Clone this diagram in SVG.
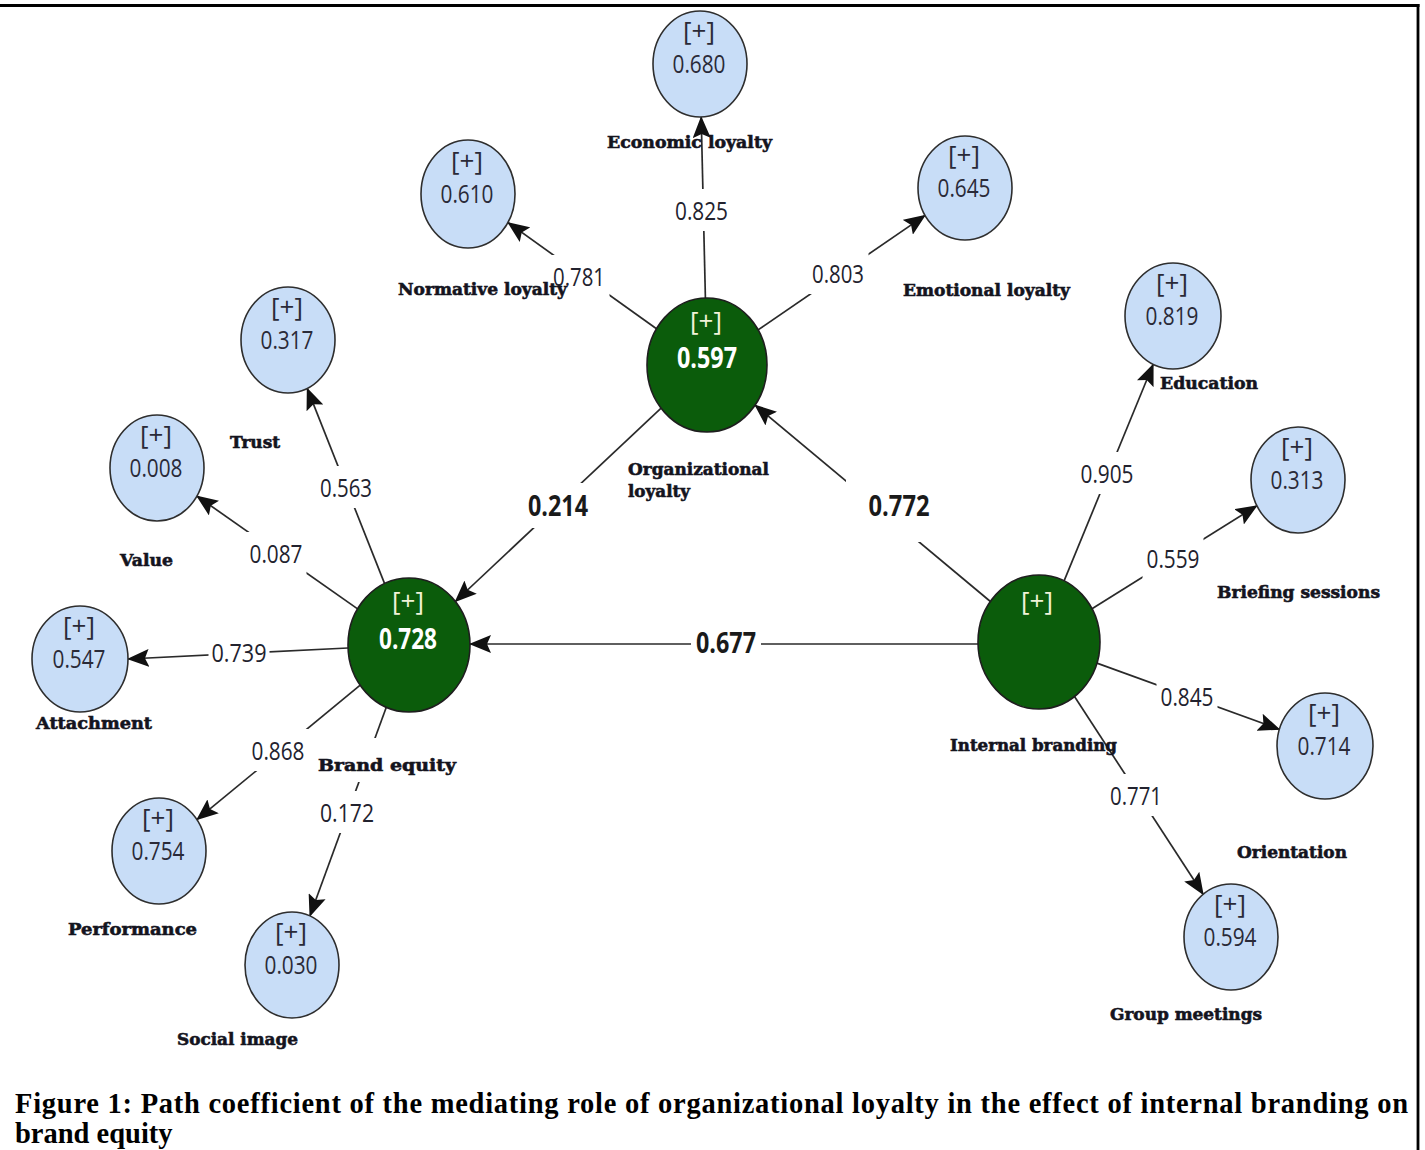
<svg xmlns="http://www.w3.org/2000/svg" width="1425" height="1150" viewBox="0 0 1425 1150">
<style>
.ind{fill:#c8ddf7;stroke:#2e2e2e;stroke-width:1.6}
.lat{fill:#0b5c0b;stroke:#1e1e1e;stroke-width:1.6}
.pl{font-family:"Open Sans","DejaVu Sans",sans-serif;font-size:26px;fill:#2a2a38;text-anchor:middle}
.val{font-family:"Open Sans","DejaVu Sans",sans-serif;font-size:26px;fill:#2a2a38;text-anchor:middle}
.gpl{font-family:"Open Sans","DejaVu Sans",sans-serif;font-size:26px;fill:#f1f3d8;text-anchor:middle}
.gval{font-family:"Open Sans","DejaVu Sans",sans-serif;font-size:28px;font-weight:bold;fill:#ffffff;text-anchor:middle}
.lbl{font-family:"DejaVu Serif","Liberation Serif",serif;font-size:17px;font-weight:bold;fill:#14141e;stroke:#14141e;stroke-width:0.6}
.edge{stroke:#2a2a2a;stroke-width:1.7;fill:none;marker-end:url(#arr)}
.cf{font-family:"Open Sans","DejaVu Sans",sans-serif;font-size:26px;fill:#22222e;text-anchor:middle}
.cfb{font-family:"Open Sans","DejaVu Sans",sans-serif;font-size:28px;font-weight:bold;fill:#1a1a1a;text-anchor:middle}
.bg{fill:#ffffff}
.cap{font-family:"Liberation Serif","Times New Roman",serif;font-size:28.5px;font-weight:bold;fill:#000}
</style>
<defs>
<marker id="arr" markerUnits="userSpaceOnUse" markerWidth="22" markerHeight="18" viewBox="0 0 22 18" refX="21" refY="9" orient="auto">
<path d="M0,0 L22,9 L0,18 L4,9 z" fill="#111"/>
</marker>
</defs>
<rect x="0" y="0" width="1425" height="1150" fill="#ffffff"/>
<g id="frame">
<line x1="0" y1="5.5" x2="1419.5" y2="5.5" stroke="#000" stroke-width="3"/>
<line x1="1418" y1="4" x2="1418" y2="1150" stroke="#000" stroke-width="2.8"/>
</g>
<g id="connectors">
<line class="edge" x1="705.4" y1="298" x2="701.2" y2="117"/>
<line class="edge" x1="656.5" y1="328.8" x2="507.9" y2="222.5"/>
<line class="edge" x1="758.1" y1="329.9" x2="925.1" y2="215.4"/>
<line class="edge" x1="661.1" y1="408.1" x2="455.3" y2="601.5"/>
<line class="edge" x1="990.4" y1="601.5" x2="755.1" y2="405.1"/>
<line class="edge" x1="978" y1="644" x2="470" y2="644"/>
<line class="edge" x1="384.6" y1="583.6" x2="307.2" y2="388.4"/>
<line class="edge" x1="357.6" y1="608.9" x2="196.9" y2="496"/>
<line class="edge" x1="348" y1="648" x2="128" y2="659"/>
<line class="edge" x1="360.2" y1="685.2" x2="196.9" y2="819.7"/>
<line class="edge" x1="386.3" y1="707.2" x2="309.9" y2="916"/>
<line class="edge" x1="1064.1" y1="580.9" x2="1153.2" y2="364.3"/>
<line class="edge" x1="1092" y1="608.8" x2="1256.9" y2="505.7"/>
<line class="edge" x1="1096.9" y1="663.1" x2="1279.4" y2="729.4"/>
<line class="edge" x1="1074.5" y1="696.5" x2="1203.2" y2="894.3"/>
<rect class="bg" x="671" y="189" width="61" height="42"/>
<rect class="bg" x="548.5" y="255" width="61" height="42"/>
<rect class="bg" x="807.5" y="252" width="61" height="42"/>
<rect class="bg" x="523" y="483" width="70" height="45"/>
<rect class="bg" x="846" y="480" width="90" height="62"/>
<rect class="bg" x="691" y="620" width="70" height="45"/>
<rect class="bg" x="315.5" y="466" width="61" height="42"/>
<rect class="bg" x="245.5" y="532" width="61" height="42"/>
<rect class="bg" x="208.5" y="631" width="61" height="42"/>
<rect class="bg" x="247.5" y="729" width="61" height="42"/>
<rect class="bg" x="316.5" y="791" width="61" height="42"/>
<rect class="bg" x="316" y="738" width="142" height="44"/>
<rect class="bg" x="1076.5" y="452" width="61" height="42"/>
<rect class="bg" x="1142.5" y="537" width="61" height="42"/>
<rect class="bg" x="1156.5" y="675" width="61" height="42"/>
<rect class="bg" x="1105.5" y="774" width="61" height="42"/>
<text class="cf" x="701.5" y="220" textLength="53" lengthAdjust="spacingAndGlyphs">0.825</text>
<text class="cf" x="579" y="286" textLength="52" lengthAdjust="spacingAndGlyphs">0.781</text>
<text class="cf" x="838" y="283" textLength="52" lengthAdjust="spacingAndGlyphs">0.803</text>
<text class="cfb" x="558" y="516" textLength="60" lengthAdjust="spacingAndGlyphs">0.214</text>
<text class="cfb" x="899" y="516" textLength="61" lengthAdjust="spacingAndGlyphs">0.772</text>
<text class="cfb" x="726" y="653" textLength="60" lengthAdjust="spacingAndGlyphs">0.677</text>
<text class="cf" x="346" y="497" textLength="52" lengthAdjust="spacingAndGlyphs">0.563</text>
<text class="cf" x="276" y="563" textLength="53" lengthAdjust="spacingAndGlyphs">0.087</text>
<text class="cf" x="239" y="662" textLength="55" lengthAdjust="spacingAndGlyphs">0.739</text>
<text class="cf" x="278" y="760" textLength="53" lengthAdjust="spacingAndGlyphs">0.868</text>
<text class="cf" x="347" y="822" textLength="54" lengthAdjust="spacingAndGlyphs">0.172</text>
<text class="cf" x="1107" y="483" textLength="53" lengthAdjust="spacingAndGlyphs">0.905</text>
<text class="cf" x="1173" y="568" textLength="53" lengthAdjust="spacingAndGlyphs">0.559</text>
<text class="cf" x="1187" y="706" textLength="53" lengthAdjust="spacingAndGlyphs">0.845</text>
<text class="cf" x="1136" y="805" textLength="52" lengthAdjust="spacingAndGlyphs">0.771</text>
</g>
<g id="economic-loyalty">
<ellipse class="ind" cx="700" cy="64" rx="47" ry="53"/>
<text class="pl" x="699" y="40">[+]</text>
<text class="val" x="699" y="73" textLength="53" lengthAdjust="spacingAndGlyphs">0.680</text>
<text class="lbl" x="607" y="148" textLength="165" lengthAdjust="spacingAndGlyphs">Economic loyalty</text>
</g>
<g id="normative-loyalty">
<ellipse class="ind" cx="468" cy="194" rx="47" ry="54"/>
<text class="pl" x="467" y="170">[+]</text>
<text class="val" x="467" y="203" textLength="53" lengthAdjust="spacingAndGlyphs">0.610</text>
<text class="lbl" x="398" y="295" textLength="169" lengthAdjust="spacingAndGlyphs">Normative loyalty</text>
</g>
<g id="emotional-loyalty">
<ellipse class="ind" cx="965" cy="188" rx="47" ry="52"/>
<text class="pl" x="964" y="164">[+]</text>
<text class="val" x="964" y="197" textLength="53" lengthAdjust="spacingAndGlyphs">0.645</text>
<text class="lbl" x="903" y="296" textLength="167" lengthAdjust="spacingAndGlyphs">Emotional loyalty</text>
</g>
<g id="organizational-loyalty">
<ellipse class="lat" cx="707" cy="365" rx="60" ry="67"/>
<text class="gpl" x="706" y="330">[+]</text>
<text class="gval" x="707" y="368" textLength="60" lengthAdjust="spacingAndGlyphs">0.597</text>
<text class="lbl" x="628" y="475" textLength="141" lengthAdjust="spacingAndGlyphs">Organizational</text>
<text class="lbl" x="628" y="497" textLength="62" lengthAdjust="spacingAndGlyphs">loyalty</text>
</g>
<g id="trust">
<ellipse class="ind" cx="288" cy="340" rx="47" ry="53"/>
<text class="pl" x="287" y="316">[+]</text>
<text class="val" x="287" y="349" textLength="53" lengthAdjust="spacingAndGlyphs">0.317</text>
<text class="lbl" x="230" y="448" textLength="50" lengthAdjust="spacingAndGlyphs">Trust</text>
</g>
<g id="value">
<ellipse class="ind" cx="157" cy="468" rx="47" ry="53"/>
<text class="pl" x="156" y="444">[+]</text>
<text class="val" x="156" y="477" textLength="53" lengthAdjust="spacingAndGlyphs">0.008</text>
<text class="lbl" x="120" y="566" textLength="53" lengthAdjust="spacingAndGlyphs">Value</text>
</g>
<g id="attachment">
<ellipse class="ind" cx="80" cy="659" rx="48" ry="53"/>
<text class="pl" x="79" y="635">[+]</text>
<text class="val" x="79" y="668" textLength="53" lengthAdjust="spacingAndGlyphs">0.547</text>
<text class="lbl" x="36" y="729" textLength="116" lengthAdjust="spacingAndGlyphs">Attachment</text>
</g>
<g id="brand-equity">
<ellipse class="lat" cx="409" cy="645" rx="61" ry="67"/>
<text class="gpl" x="408" y="610">[+]</text>
<text class="gval" x="408" y="649" textLength="58" lengthAdjust="spacingAndGlyphs">0.728</text>
<text class="lbl" x="318" y="771" textLength="138" lengthAdjust="spacingAndGlyphs">Brand equity</text>
</g>
<g id="performance">
<ellipse class="ind" cx="159" cy="851" rx="47" ry="53"/>
<text class="pl" x="158" y="827">[+]</text>
<text class="val" x="158" y="860" textLength="53" lengthAdjust="spacingAndGlyphs">0.754</text>
<text class="lbl" x="68" y="935" textLength="129" lengthAdjust="spacingAndGlyphs">Performance</text>
</g>
<g id="social-image">
<ellipse class="ind" cx="292" cy="965" rx="47" ry="53"/>
<text class="pl" x="291" y="941">[+]</text>
<text class="val" x="291" y="974" textLength="53" lengthAdjust="spacingAndGlyphs">0.030</text>
<text class="lbl" x="177" y="1045" textLength="121" lengthAdjust="spacingAndGlyphs">Social image</text>
</g>
<g id="internal-branding">
<ellipse class="lat" cx="1039" cy="642" rx="61" ry="67"/>
<text class="gpl" x="1037" y="610">[+]</text>
<text class="lbl" x="950" y="751" textLength="167" lengthAdjust="spacingAndGlyphs">Internal branding</text>
</g>
<g id="education">
<ellipse class="ind" cx="1173" cy="316" rx="48" ry="53"/>
<text class="pl" x="1172" y="292">[+]</text>
<text class="val" x="1172" y="325" textLength="53" lengthAdjust="spacingAndGlyphs">0.819</text>
<text class="lbl" x="1160" y="389" textLength="98" lengthAdjust="spacingAndGlyphs">Education</text>
</g>
<g id="briefing-sessions">
<ellipse class="ind" cx="1298" cy="480" rx="47" ry="53"/>
<text class="pl" x="1297" y="456">[+]</text>
<text class="val" x="1297" y="489" textLength="53" lengthAdjust="spacingAndGlyphs">0.313</text>
<text class="lbl" x="1217" y="598" textLength="163" lengthAdjust="spacingAndGlyphs">Briefing sessions</text>
</g>
<g id="orientation">
<ellipse class="ind" cx="1325" cy="746" rx="48" ry="53"/>
<text class="pl" x="1324" y="722">[+]</text>
<text class="val" x="1324" y="755" textLength="53" lengthAdjust="spacingAndGlyphs">0.714</text>
<text class="lbl" x="1237" y="858" textLength="110" lengthAdjust="spacingAndGlyphs">Orientation</text>
</g>
<g id="group-meetings">
<ellipse class="ind" cx="1231" cy="937" rx="47" ry="53"/>
<text class="pl" x="1230" y="913">[+]</text>
<text class="val" x="1230" y="946" textLength="53" lengthAdjust="spacingAndGlyphs">0.594</text>
<text class="lbl" x="1110" y="1020" textLength="152" lengthAdjust="spacingAndGlyphs">Group meetings</text>
</g>
<g id="caption">
<text class="cap" x="15" y="1113" textLength="1393" lengthAdjust="spacing">Figure 1: Path coefficient of the mediating role of organizational loyalty in the effect of internal branding on</text>
<text class="cap" x="15" y="1143">brand equity</text>
</g>
</svg>
